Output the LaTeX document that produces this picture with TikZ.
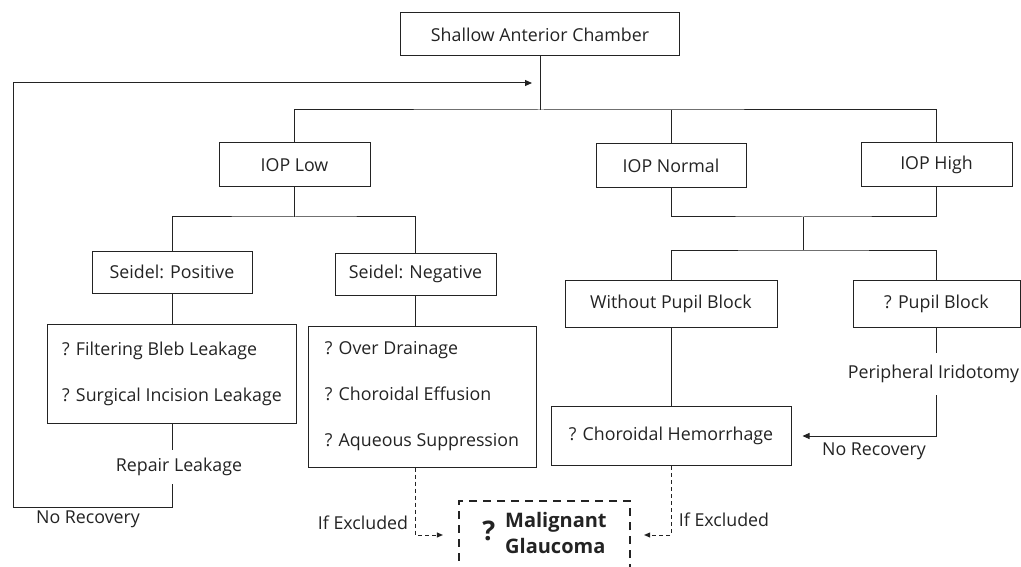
\documentclass[tikz,border=0pt]{standalone}
\usepackage{fontspec}
\setmainfont{Open Sans}
\usepackage{tikz}
\usetikzlibrary{positioning, arrows.meta, calc}
\definecolor{inkgray}{RGB}{35, 35, 35}

\begin{document}
\begin{tikzpicture}[
      x=1pt, y=-1pt,
      box/.style={
        draw=inkgray, line width=1pt, text=inkgray,
        minimum height=44pt, inner xsep=8pt,
        font=\fontsize{17.8}{21}\selectfont
      },
      listbox/.style={
        box, align=left,
        font=\fontsize{17.8}{46}\selectfont
      },
      lbl/.style={text=inkgray, inner sep=0pt, font=\fontsize{17.8}{21}\selectfont},
      link/.style={draw=inkgray, line width=1pt},
      flow/.style={link, -{Triangle[length=7pt, width=6pt]}},
      maybe/.style={draw=inkgray, line width=0.9pt, dash pattern=on 4pt off 3pt,
        -{Triangle[length=6pt, width=5pt]}}
    ]
      \useasboundingbox (0,0) rectangle (1021,567);
      \clip (0,0) rectangle (1021,567);

      \node[box, minimum width=279pt, minimum height=43pt] (top) at (540,34.5) {Shallow Anterior Chamber};
      \node[box, minimum width=151pt] (ioplow) at (294.5,165) {IOP Low};
      \node[box, minimum width=150pt] (iopnormal) at (671,166) {IOP Normal};
      \node[box, minimum width=151pt] (iophigh) at (936.5,165) {IOP High};
      \node[box, minimum width=160pt, minimum height=42pt] (seidelpos) at (172,272) {Seidel: Positive};
      \node[box, minimum width=161pt, minimum height=42pt] (seidelneg) at (415.5,274) {Seidel: Negative};
      \node[box, minimum width=212pt, minimum height=47pt] (nopupil) at (671,303.5) {Without Pupil Block};
      \node[box, minimum width=167pt, minimum height=47pt] (pupil) at (936.5,303.5) {? Pupil Block};
      \node[listbox, minimum width=249pt, minimum height=99pt] (bleb) at (172,373.5) {? Filtering Bleb Leakage\\? Surgical Incision Leakage};
      \node[listbox, minimum width=228pt, minimum height=141pt] (drainage) at (422,396.5) {? Over Drainage\\? Choroidal Effusion\\? Aqueous Suppression};
      \node[box, minimum width=240pt, minimum height=59pt] (hemorrhage) at (671,436) {? Choroidal Hemorrhage};
      \node[box, line width=2.2pt, dash pattern=on 8pt off 6pt, minimum width=171pt, minimum height=68pt,
        font=\fontsize{20}{26}\selectfont\bfseries] (malignant) at (544.5,535)
        {{\fontsize{27}{27}\selectfont ?}\hspace{10pt}\begin{tabular}{@{}l@{}}Malignant\\Glaucoma\end{tabular}};

      \node[lbl, minimum height=34pt] (repair) at (179,467) {Repair Leakage};
      \node[lbl] (norecleft) at (88,519) {No Recovery};
      \node[lbl, minimum height=42pt] (iridotomy) at (933.5,374) {Peripheral Iridotomy};
      \node[lbl] (norecright) at (874,451) {No Recovery};
      \node[lbl] (exclleft) at (363,523) {If Excluded};
      \node[lbl] (exclright) at (724,520) {If Excluded};

      \coordinate (split) at (540,110);
      \coordinate (lowsplit) at (294.5,217);
      \coordinate (highjoin) at (803,217);
      \coordinate (blocksplit) at (803,250);
      \coordinate (loop) at (13,507);
      \coordinate (reentry) at (532,83);

      \draw[link] (top) -- (split);
      \draw[link] (ioplow.north) |- (split) -| (iophigh.north);
      \draw[link] (iopnormal.north) -- (iopnormal.north |- split);
      \draw[link] (ioplow) -- (lowsplit);
      \draw[link] (seidelpos.north) |- (lowsplit) -| (seidelneg.north);
      \draw[link] (seidelpos) -- (bleb);
      \draw[link] (seidelneg.south) -- (seidelneg.south |- drainage.north);
      \draw[link] (iopnormal.south) |- (highjoin) -| (iophigh.south);
      \draw[link] (highjoin) -- (blocksplit);
      \draw[link] (nopupil.north) |- (blocksplit) -| (pupil.north);
      \draw[link] (nopupil) -- (hemorrhage);
      \draw[link] (pupil.south) -- (pupil.south |- iridotomy.north);
      \draw[flow, shorten >=11pt] (pupil.south |- iridotomy.south) |- (hemorrhage.east);
      \draw[link] (bleb.south) -- (bleb.south |- repair.north);
      \draw[flow] (bleb.south |- repair.south) |- (loop) |- (reentry);
      \draw[maybe, shorten >=15pt] (seidelneg.south |- drainage.south) |- (malignant.west);
      \draw[maybe, shorten >=13pt] (hemorrhage.south) |- (malignant.east);
    \end{tikzpicture}
\end{document}
